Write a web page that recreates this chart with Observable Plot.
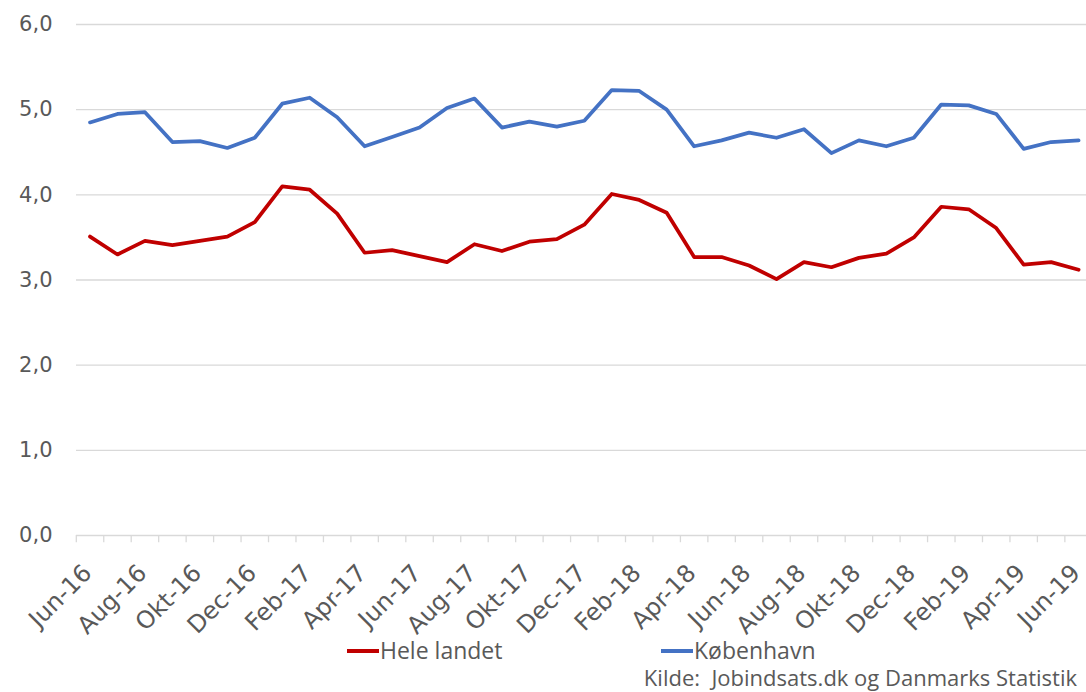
<!DOCTYPE html>
<html>
<head>
<meta charset="utf-8">
<script src="https://cdn.jsdelivr.net/npm/d3@7"></script>
<script src="https://cdn.jsdelivr.net/npm/@observablehq/plot@0.6"></script>
<style>
  html, body { margin: 0; padding: 0; background: #fff; }
  #wrap { position: relative; width: 1086px; height: 692px; font-family: "Open Sans", sans-serif; color: #595959; overflow: hidden; }
  .leg { position: absolute; top: 639px; font-size: 23px; line-height: 1; display: flex; align-items: center; white-space: nowrap; }
  .sw { width: 32px; height: 4px; margin-right: 1px; }
  #cap { position: absolute; top: 666px; right: 9px; font-size: 22px; line-height: 1; white-space: nowrap; }
</style>
</head>
<body>
<div id="wrap">
  <div id="chart"></div>
  <div class="leg" style="left:347px"><span class="sw" style="background:#C00000"></span>Hele landet</div>
  <div class="leg" style="left:661px"><span class="sw" style="background:#4472C4"></span>København</div>
  <div id="cap">Kilde:&nbsp; Jobindsats.dk og Danmarks Statistik</div>
</div>
<script>
const months = ["Jun-16","Jul-16","Aug-16","Sep-16","Okt-16","Nov-16","Dec-16","Jan-17","Feb-17","Mar-17","Apr-17","Maj-17",
  "Jun-17","Jul-17","Aug-17","Sep-17","Okt-17","Nov-17","Dec-17","Jan-18","Feb-18","Mar-18","Apr-18","Maj-18",
  "Jun-18","Jul-18","Aug-18","Sep-18","Okt-18","Nov-18","Dec-18","Jan-19","Feb-19","Mar-19","Apr-19","Maj-19","Jun-19"];
const heleLandet = [3.51,3.30,3.46,3.41,3.46,3.51,3.68,4.10,4.06,3.78,3.32,3.35,
  3.28,3.21,3.42,3.34,3.45,3.48,3.65,4.01,3.94,3.79,3.27,3.27,
  3.17,3.01,3.21,3.15,3.26,3.31,3.50,3.86,3.83,3.61,3.18,3.21,3.12];
const koebenhavn = [4.85,4.95,4.97,4.62,4.63,4.55,4.67,5.07,5.14,4.91,4.57,4.68,
  4.79,5.02,5.13,4.79,4.86,4.80,4.87,5.23,5.22,5.00,4.57,4.64,
  4.73,4.67,4.77,4.49,4.64,4.57,4.67,5.06,5.05,4.95,4.54,4.62,4.64];
const yTicks = [0,1,2,3,4,5,6];
const series = [
  {name: "Hele landet", values: heleLandet, color: "#C00000"},
  {name: "København", values: koebenhavn, color: "#4472C4"}
];

const data = series.flatMap(s => s.values.map((v, i) => ({i, v, name: s.name})));
const labelIdx = months.map((m, i) => i).filter(i => i % 2 === 0);
const bounds = d3.range(months.length + 1).map(i => i - 0.5);
const fmt = d => d.toFixed(1).replace(".", ",");

const chart = Plot.plot({
  width: 1086,
  height: 640,
  marginLeft: 76,
  marginRight: 0,
  marginTop: 24,
  marginBottom: 105,
  style: {fontFamily: "'DejaVu Sans', sans-serif", color: "#595959", background: "#fff", overflow: "visible"},
  x: {axis: null, domain: [-0.5, months.length - 0.5], range: [75.8, 75.8 + months.length * 27.46]},
  y: {domain: [0, 6]},
  color: {domain: series.map(s => s.name), range: series.map(s => s.color)},
  marks: [
    Plot.ruleY(yTicks.filter(t => t > 0), {stroke: "#d9d9d9", strokeWidth: 1.3}),
    Plot.ruleY([0], {stroke: "#d9d9d9", strokeWidth: 1.3}),
    Plot.ruleX(bounds, {x: d => d, y1: 0, y2: -0.085, stroke: "#d9d9d9", strokeWidth: 1.3}),
    Plot.axisY({ticks: yTicks, tickSize: 0, tickPadding: 24, tickFormat: fmt, fontSize: 21, fill: "#595959", label: null}),
    Plot.text(labelIdx, {x: d => d, y: 0, text: d => months[d], rotate: -45, textAnchor: "end", lineAnchor: "top",
      dx: -9, dy: 27, fontSize: 24, fill: "#595959"}),
    Plot.line(data, {x: "i", y: "v", z: "name", stroke: "name", strokeWidth: 3.75, strokeLinejoin: "round", strokeLinecap: "round"})
  ]
});
document.getElementById("chart").appendChild(chart);
</script>
</body>
</html>
